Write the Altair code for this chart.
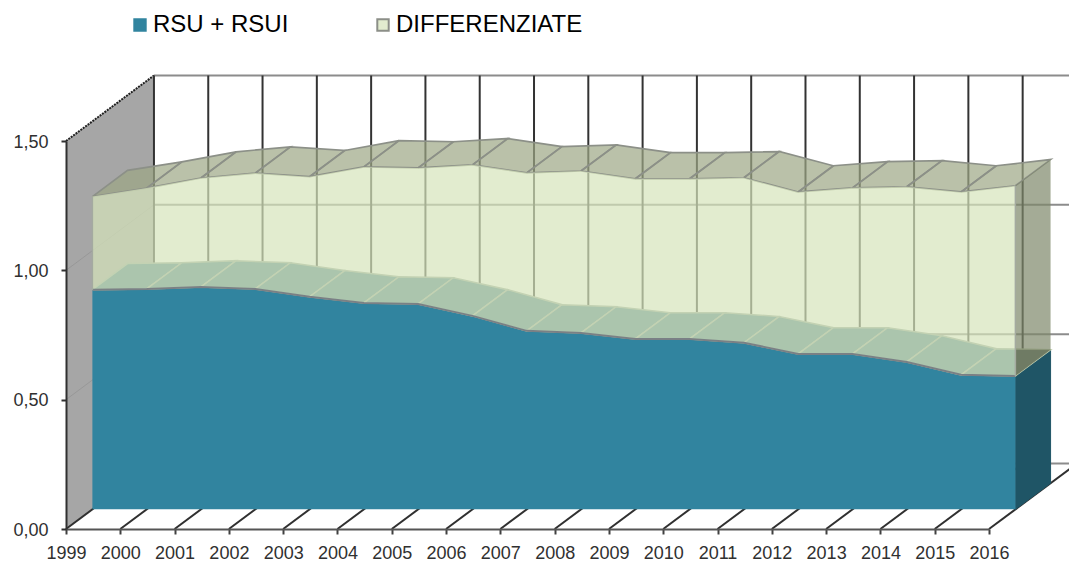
import altair as alt
import pandas as pd

years = list(range(1999, 2017))
rsu = [0.849, 0.852, 0.860, 0.852, 0.822, 0.798, 0.794, 0.748, 0.690,
       0.682, 0.659, 0.659, 0.644, 0.601, 0.601, 0.570, 0.520, 0.516]
diff = [0.360, 0.390, 0.421, 0.448, 0.464, 0.526, 0.526, 0.584, 0.611,
        0.626, 0.619, 0.619, 0.638, 0.626, 0.642, 0.677, 0.707, 0.735]
total = [a + b for a, b in zip(rsu, diff)]
series = ["RSU + RSUI", "DIFFERENZIATE"]
y_ticks = [0, 0.5, 1.0, 1.5]

# oblique projection of the chart's depth axis onto the year/value plane
DX, DY = 1.62, 0.2532
D0, D1 = 0.30, 0.70


def P(year, value, depth):
    return year + DX * depth, value + DY * depth


def rows(groups):
    out = []
    for g, pts in enumerate(groups):
        for o, (yr, v, d) in enumerate(pts):
            x, y = P(yr, v, d)
            out.append({"x": x, "y": y, "g": g, "o": o})
    return pd.DataFrame(out)


xs = alt.Scale(domain=[1999, 2016], nice=False, zero=False)
ys = alt.Scale(domain=[0, 1.5], nice=False, zero=False)
x_axis = alt.Axis(
    values=years, format="d", grid=False, zindex=1, tickSize=5, tickWidth=2,
    tickColor="#404040", domainColor="#555555", domainWidth=2,
    labelFontSize=18, labelFont="Liberation Sans", labelColor="#303030",
    labelPadding=10, labelFlush=False, labelOverlap=False)
y_axis = alt.Axis(
    values=y_ticks, grid=False, zindex=1, tickSize=5, tickWidth=2,
    tickColor="#303030", domainColor="#303030", domainWidth=2,
    labelExpr="replace(format(datum.value,'.2f'),'.',',')",
    labelFontSize=18, labelFont="Liberation Sans", labelColor="#303030",
    labelPadding=13, labelOffset=1)
X = alt.X("x:Q", scale=xs, axis=x_axis, title=None)
Y = alt.Y("y:Q", scale=ys, axis=y_axis, title=None)


def lines(groups, color, width=2, **kw):
    return alt.Chart(rows(groups)).mark_line(
        stroke=color, strokeWidth=width, **kw
    ).encode(x=X, y=Y, detail="g:N", order="o:Q")


def polys(groups, fill, opacity=1.0, stroke=None, width=2):
    closed = [g + [g[0]] for g in groups]
    kw = {"stroke": stroke if stroke else fill, "strokeWidth": width if stroke else 0}
    return alt.Chart(rows(closed)).mark_line(
        filled=True, fill=fill, fillOpacity=opacity, **kw
    ).encode(x=X, y=Y, detail="g:N", order="o:Q")


def front(lo, hi, fill, opacity=1.0):
    a = [P(yr, l, D0) for yr, l in zip(years, lo)]
    b = [P(yr, h, D0) for yr, h in zip(years, hi)]
    d = pd.DataFrame({"x": [p[0] for p in a], "y": [p[1] for p in a], "y2": [p[1] for p in b]})
    return alt.Chart(d).mark_area(fill=fill, fillOpacity=opacity, strokeWidth=0).encode(
        x=X, y=Y, y2="y2:Q"
    )


def top_quads(vals):
    return [
        [(years[i], vals[i], D0), (years[i + 1], vals[i + 1], D0),
         (years[i + 1], vals[i + 1], D1), (years[i], vals[i], D1)]
        for i in range(len(years) - 1)
    ]


def edge(vals, depth):
    return [[(yr, v, depth) for yr, v in zip(years, vals)]]


zero = [0.0] * len(years)
Y0, Y1 = years[0], years[-1]

wall_h = lines([[(Y0, v, 1), (Y1, v, 1)] for v in y_ticks], "#8C8C8C")
wall_v = lines([[(yr, 0, 1), (yr, 1.5, 1)] for yr in years], "#333333")
side_wall = polys([[(Y0, 0, 0), (Y0, 1.5, 0), (Y0, 1.5, 1), (Y0, 0, 1)]], "#A6A6A6")
side_grid = lines([[(Y0, v, 0), (Y0, v, 1)] for v in [0.5, 1.0]], "#989898", 1)
side_top = lines([[(Y0, 1.5, 0), (Y0, 1.5, 1)]], "#222222", 2, strokeDash=[2, 1])
floor = lines([[(yr, 0, 0), (yr, 0, 1)] for yr in years], "#303030")

blue_front = front(zero, rsu, "#31849F")
blue_side = polys([[(Y1, 0, D0), (Y1, rsu[-1], D0), (Y1, rsu[-1], D1), (Y1, 0, D1)]],
                  "#1F5566", 1.0, "#1F5566", 1)
pale_top = polys(top_quads(total), "#9CA685", 0.7, "#8C9088", 1.7)
pale_front = front(rsu, total, "#D6E4BA", 0.7)
blue_top = polys(top_quads(rsu), "#ABC5AD", 1.0, "#C3D2B3", 1.5)
blue_edge = lines(edge(rsu, D0), "#7A8085")
pale_side = polys([[(Y1, rsu[-1], D0), (Y1, total[-1], D0), (Y1, total[-1], D1), (Y1, rsu[-1], D1)]],
                  "#7E8769", 0.7)
# the last stretch of the blue top face, seen through the pale end face
end_shade = polys([[(Y1, rsu[-1], D0), (Y1, rsu[-1], D1), (Y1, rsu[-1] + DY * (D1 - D0), D0)]],
                  "#000000", 0.2)
pale_edges = lines([[(Y0, rsu[0], D0), (Y0, total[0], D0)],
                    [(Y1, rsu[-1], D0), (Y1, total[-1], D0)]], "#A4AAA0", 1.5)

legend_def = alt.Legend(orient="none", legendX=62, legendY=-128, columns=2,
                        title=None, symbolType="square", symbolSize=130,
                        symbolStrokeWidth=2, labelFontSize=24,
                        labelFont="Liberation Sans", labelColor="#000000",
                        columnPadding=82, labelLimit=300, labelOffset=1,
                        symbolOpacity=1)
legend_layer = alt.Chart(pd.DataFrame({"s": series, "x": [1999, 1999], "y": [0, 0]})).mark_square(
    size=0, strokeWidth=0, opacity=1
).encode(
    x=X, y=Y,
    fill=alt.Fill("s:N", scale=alt.Scale(domain=series, range=["#31849F", "#E2ECCF"]),
                  legend=legend_def),
    stroke=alt.Stroke("s:N", scale=alt.Scale(domain=series, range=["#31849F", "#8C8F88"]),
                      legend=legend_def),
)

chart = alt.layer(
    wall_h, side_wall, side_grid, side_top, wall_v, floor,
    blue_side, blue_front, pale_top, pale_front, blue_top, blue_edge,
    pale_side, end_shade, pale_edges, legend_layer,
).properties(
    width=923, height=388,
    padding={"left": 58, "top": 133, "right": 80, "bottom": 33},
    autosize=alt.AutoSizeParams(type="none"),
).configure_view(strokeWidth=0)

chart.save("out.html", embed_options={"renderer": "svg", "actions": False})
